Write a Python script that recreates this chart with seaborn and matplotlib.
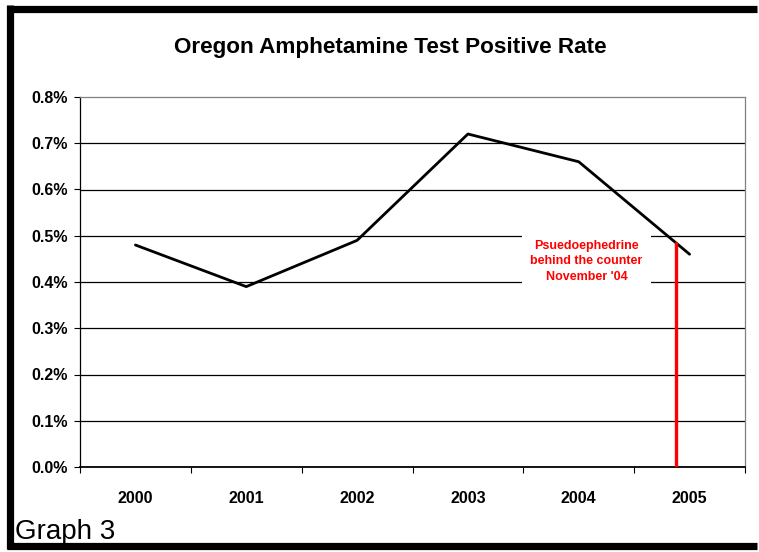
import numpy as np
import pandas as pd
import seaborn as sns
import matplotlib.pyplot as plt
from matplotlib.lines import Line2D
from matplotlib.ticker import FuncFormatter

years = ['2000', '2001', '2002', '2003', '2004', '2005']
rate = [0.48, 0.39, 0.49, 0.72, 0.66, 0.46]   # percent
law_x = 4.88      # November '04, in category units
law_top = 0.485
note = "Psuedoephedrine\nbehind the counter\nNovember '04"

sns.set_style("white")
plt.rcParams['font.family'] = ['Liberation Sans', 'DejaVu Sans']
plt.rcParams['text.color'] = 'black'
plt.rcParams['xtick.color'] = 'black'
plt.rcParams['ytick.color'] = 'black'

df = pd.DataFrame({'pos': np.arange(len(years)), 'rate': rate})

fig = plt.figure(figsize=(7.59, 5.52), dpi=100)
ax = fig.add_axes([80 / 759, 1 - 467 / 552, 665 / 759, 370 / 552])

for v in np.arange(0.1, 0.8, 0.1):
    ax.axhline(v, color='black', lw=0.9, zorder=1)

sns.lineplot(data=df, x='pos', y='rate', color='black', lw=2, ax=ax, zorder=3)

ax.plot([law_x, law_x], [0, law_top], color='red', lw=2.4, zorder=4)
ax.text(4.07, 0.445, note, color='red', fontsize=9, fontweight='bold',
        ha='center', va='center', linespacing=1.4, zorder=2,
        bbox=dict(facecolor='white', edgecolor='none', pad=6))

ax.set_xlim(-0.5, 5.5)
ax.set_ylim(0, 0.8)
ax.set_yticks(np.arange(0, 0.81, 0.1))
ax.yaxis.set_major_formatter(FuncFormatter(lambda v, p: f'{v:.1f}%'))
ax.set_xticks(np.arange(-0.5, 6, 1))
ax.set_xticklabels([])
ax.set_xticks(np.arange(len(years)), minor=True)
ax.set_xticklabels(years, minor=True)
ax.tick_params(axis='x', which='minor', length=0, pad=17)
ax.tick_params(axis='both', which='major', direction='out', length=4, width=0.8,
               color='black', left=True, bottom=True)
ax.tick_params(axis='y', pad=5)
for lab in ax.get_xticklabels(minor=True) + ax.get_yticklabels():
    lab.set_fontsize(11.5)
    lab.set_fontweight('bold')
    lab.set_color('black')
ax.set_xlabel('')
ax.set_ylabel('')

for s in ['top', 'right']:
    ax.spines[s].set_color('#808080')
    ax.spines[s].set_linewidth(0.9)
ax.spines['left'].set_color('black')
ax.spines['left'].set_linewidth(0.9)
ax.spines['bottom'].set_color('black')
ax.spines['bottom'].set_linewidth(1.3)

fig.text(390 / 759, 1 - 47 / 552, 'Oregon Amphetamine Test Positive Rate',
         ha='center', va='center', fontsize=16.2, fontweight='bold')
fig.text(15 / 759, 1 - 532 / 552, 'Graph 3', ha='left', va='center', fontsize=20)

# outer frame (left, top, bottom)
frame = dict(color='black', lw=5.2, solid_capstyle='butt', transform=fig.transFigure)
fig.add_artist(Line2D([10 / 759, 10 / 759], [1 - 5 / 552, 1 - 549 / 552], **frame))
fig.add_artist(Line2D([7 / 759, 757 / 759], [1 - 8.5 / 552, 1 - 8.5 / 552], **frame))
fig.add_artist(Line2D([7 / 759, 757 / 759], [1 - 546 / 552, 1 - 546 / 552], **frame))

fig.savefig('out.png', dpi=100)
